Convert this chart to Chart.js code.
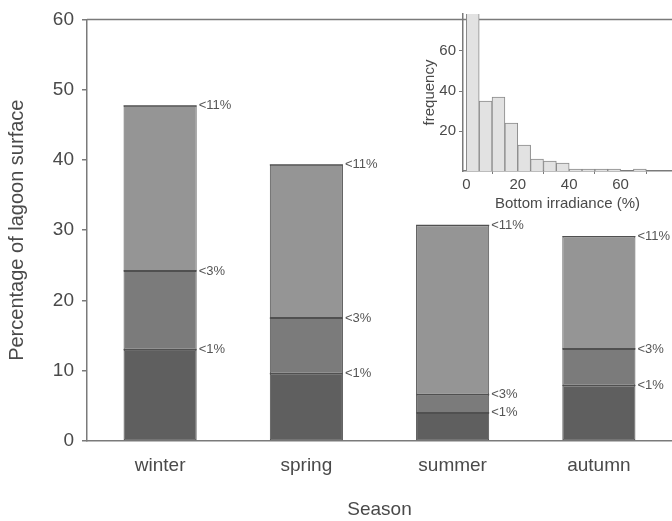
<!DOCTYPE html>
<html>
<head>
<meta charset="utf-8">
<script src="https://cdn.jsdelivr.net/npm/chart.js@4/dist/chart.umd.min.js"></script>
<style>
  body { margin: 0; background: #fff; }
  #wrap { position: relative; width: 672px; height: 521px; }
  #main { position: absolute; left: 0; top: 0; }
  #inset { position: absolute; left: 405px; top: 0; }
</style>
</head>
<body>
<div id="wrap">
  <canvas id="main" width="672" height="521"></canvas>
  <canvas id="inset" width="267" height="215"></canvas>
</div>
<script>
// seasons and lagoon surface (%) per irradiance class, stacked
var seasons = ['winter', 'spring', 'summer', 'autumn'];
var below1 = [13.0, 9.6, 4.0, 7.9];
var from1to3 = [11.2, 7.9, 2.6, 5.2];
var from3to11 = [23.5, 21.8, 24.1, 16.0];
var classLabels = ['<1%', '<3%', '<11%'];
var yTicks = [0, 10, 20, 30, 40, 50, 60];

// histogram of bottom irradiance, 5% bins
var binCentres = [2.5, 7.5, 12.5, 17.5, 22.5, 27.5, 32.5, 37.5, 42.5, 47.5, 52.5, 57.5, 62.5, 67.5, 72.5, 77.5];
var binCounts = [84, 35, 37, 24, 13, 6, 5, 4, 1, 1, 1, 1, 0, 1, 0, 0];
var insetXTicks = [0, 20, 40, 60];
var insetYTicks = [20, 40, 60];

var FONT = 'Liberation Sans, Arial, sans-serif';
var AXIS = '#7a7a7a';
var TEXT = '#4a4a4a';

// dividing line + label at the top of each stacked segment, frame line on top
var segLabels = {
  id: 'segLabels',
  afterDatasetsDraw: function (chart) {
    var ctx = chart.ctx;
    ctx.save();
    ctx.font = '13px ' + FONT;
    ctx.fillStyle = '#555';
    ctx.strokeStyle = '#505050';
    ctx.lineWidth = 1.2;
    ctx.textBaseline = 'middle';
    chart.data.datasets.forEach(function (ds, i) {
      chart.getDatasetMeta(i).data.forEach(function (bar) {
        var l = bar.x - bar.width / 2, r = bar.x + bar.width / 2;
        ctx.beginPath();
        ctx.moveTo(l, bar.y);
        ctx.lineTo(r, bar.y);
        ctx.stroke();
        ctx.fillText(ds.label, r + 2, bar.y);
      });
    });
    var a = chart.chartArea;
    ctx.strokeStyle = AXIS;
    ctx.lineWidth = 1.5;
    ctx.beginPath();
    ctx.moveTo(a.left, a.top);
    ctx.lineTo(chart.width, a.top);
    ctx.stroke();
    ctx.restore();
  }
};

var fills = ['#5f5f5f', '#7b7b7b', '#959595'];
var series = [below1, from1to3, from3to11];

new Chart(document.getElementById('main'), {
  type: 'bar',
  data: {
    labels: seasons,
    datasets: series.map(function (vals, i) {
      return {
        label: classLabels[i],
        data: vals,
        backgroundColor: fills[i],
        borderColor: '#505050',
        borderWidth: 1,
        borderSkipped: false,
        barPercentage: 0.5,
        categoryPercentage: 1
      };
    })
  },
  options: {
    responsive: false,
    animation: false,
    layout: { padding: { left: 3, right: 0, top: 14, bottom: 0 } },
    plugins: { legend: { display: false }, tooltip: { enabled: false } },
    scales: {
      x: {
        stacked: true,
        grid: { display: false },
        border: { color: AXIS, width: 1.5 },
        ticks: { color: TEXT, font: { size: 19, family: FONT }, padding: 5 },
        title: { display: true, text: 'Season', color: TEXT, font: { size: 19, family: FONT }, padding: { top: 4, bottom: 0 } },
        afterFit: function (s) { s.height = 80; }
      },
      y: {
        stacked: true,
        min: 0,
        max: 60,
        afterBuildTicks: function (s) { s.ticks = yTicks.map(function (v) { return { value: v }; }); },
        grid: { drawOnChartArea: false, tickLength: 5, color: AXIS, lineWidth: 1.5 },
        border: { color: AXIS, width: 1.5 },
        ticks: { color: TEXT, font: { size: 19, family: FONT }, padding: 8 },
        title: { display: true, text: 'Percentage of lagoon surface', color: TEXT, font: { size: 20, family: FONT }, padding: { top: 2, bottom: 6 } },
        afterFit: function (s) { s.width = 84; }
      }
    }
  },
  plugins: [segLabels]
});

// inset histogram
new Chart(document.getElementById('inset'), {
  type: 'bar',
  data: {
    datasets: [{
      data: binCentres.map(function (c, i) { return { x: c, y: binCounts[i] }; }),
      backgroundColor: '#e2e2e2',
      borderColor: '#8a8a8a',
      borderWidth: 1,
      barPercentage: 1,
      categoryPercentage: 1
    }]
  },
  options: {
    responsive: false,
    animation: false,
    layout: { padding: { left: 12, right: 0, top: 14, bottom: 0 } },
    plugins: { legend: { display: false }, tooltip: { enabled: false } },
    scales: {
      x: {
        type: 'linear',
        offset: false,
        min: -1.3,
        max: 80,
        afterBuildTicks: function (s) { s.ticks = insetXTicks.map(function (v) { return { value: v }; }); },
        grid: { drawOnChartArea: false, tickLength: 3, color: AXIS },
        border: { color: AXIS, width: 1.5 },
        ticks: { color: TEXT, font: { size: 15, family: FONT }, padding: 2, maxRotation: 0 },
        title: { display: true, text: 'Bottom irradiance (%)', color: TEXT, font: { size: 15, family: FONT }, padding: { top: 0, bottom: 2 } },
        afterFit: function (s) { s.height = 44; }
      },
      y: {
        min: 0,
        max: 78.5,
        afterBuildTicks: function (s) { s.ticks = insetYTicks.map(function (v) { return { value: v }; }); },
        grid: { drawOnChartArea: false, tickLength: 4, color: AXIS },
        border: { color: AXIS, width: 1.5 },
        ticks: { color: TEXT, font: { size: 15, family: FONT }, padding: 3 },
        title: { display: true, text: 'frequency', color: TEXT, font: { size: 15, family: FONT }, padding: { bottom: 0 } },
        afterFit: function (s) { s.width = 46; }
      }
    }
  }
});
</script>
</body>
</html>
